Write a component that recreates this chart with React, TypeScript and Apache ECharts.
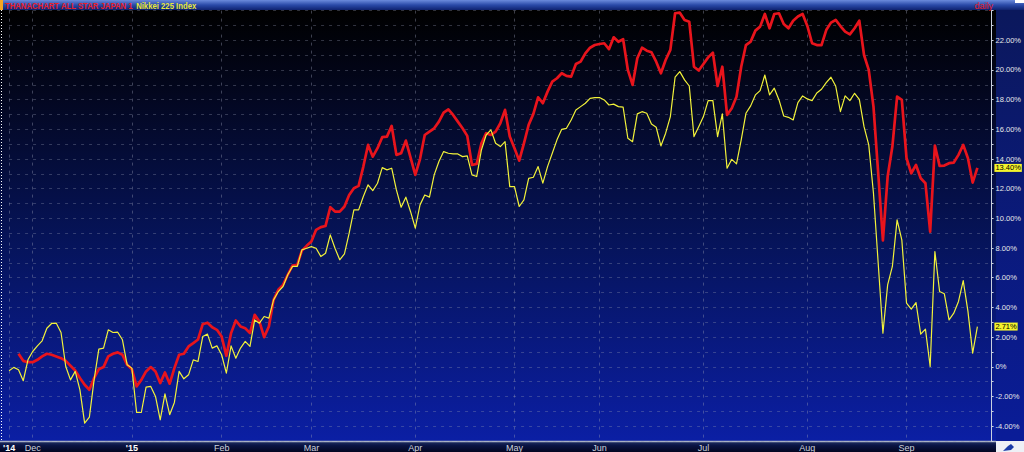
import React, { useEffect, useRef } from 'react';
import * as echarts from 'echarts';

const fundName = 'THANACHART ALL STAR JAPAN 1';
const indexName = 'Nikkei 225 Index';
const periodLabel = 'daily';

// trading-day index of each month start and its label
const monthTickIdx = [0, 5, 26, 45, 64, 86, 107, 125, 147, 169, 190];
const monthTickLabels = ["'14", 'Dec', "'15", 'Feb', 'Mar', 'Apr', 'May', 'Jun', 'Jul', 'Aug', 'Sep'];
const yearLabels = ["'14", "'15"];

// cumulative return, % (Nov 21 2014 .. Sep 25 2015, trading days)
const fundReturn = [
  null, null, 0.88, 0.40, 0.31, 0.31, 0.47, 0.70, 0.88, 0.81,
  0.70, 0.58, 0.40, 0.07, -0.25, -0.76, -1.21, -1.55, -0.76, -0.16,
  -0.02, 0.70, 0.88, 0.97, 0.81, 0.13, -0.16, -1.32, -0.88, -0.31,
  -0.02, -0.31, -1.10, -0.38, -1.14, -0.09, 0.81, 0.88, 1.37, 1.60,
  1.84, 2.87, 2.97, 2.66, 2.49, 2.04, 0.74, 2.27, 3.12, 2.72,
  2.60, 2.27, 3.50, 3.05, 2.00, 2.72, 4.51, 5.19, 5.52, 6.20,
  6.82, 6.87, 7.83, 8.15, 8.44, 9.23, 9.41, 9.49, 10.75, 10.46,
  10.46, 10.80, 11.58, 12.03, 12.19, 13.49, 14.95, 14.16, 14.73, 15.47,
  15.51, 16.23, 14.28, 14.39, 15.24, 14.10, 12.93, 14.00, 15.62, 15.85,
  16.07, 16.52, 17.13, 17.35, 16.97, 16.52, 16.07, 15.56, 13.60, 13.67,
  15.06, 15.74, 15.62, 15.85, 16.41, 17.31, 15.51, 14.73, 13.89, 15.06,
  16.30, 17.04, 18.16, 17.76, 18.54, 19.21, 19.44, 19.78, 19.60, 19.55,
  20.40, 20.56, 21.12, 21.50, 21.68, 21.75, 21.80, 21.40, 22.20, 21.90,
  22.07, 20.00, 18.99, 20.79, 21.50, 21.30, 21.19, 20.56, 19.78, 20.67,
  21.35, 23.82, 23.86, 23.37, 23.25, 20.22, 19.96, 20.40, 20.85, 21.17,
  18.92, 20.22, 16.97, 17.42, 18.20, 20.22, 21.68, 21.91, 22.65, 22.92,
  23.77, 22.81, 23.77, 23.82, 23.10, 22.81, 23.32, 23.60, 23.77, 22.97,
  21.80, 21.68, 21.68, 22.69, 23.19, 23.37, 22.96, 22.58, 22.40, 22.81,
  23.32, 21.01, 20.00, 17.53, 13.04, 8.51, 12.82, 14.84, 18.20, 17.98,
  14.05, 13.04, 13.60, 12.70, 12.37, 9.11, 14.90, 13.54, 13.56, 13.72,
  13.76, 14.28, 14.95, 14.05, 12.41, 13.40,
];

const indexReturn = [
  -0.27, -0.04, -0.20, -0.94, 0.47, 1.03, 1.41, 1.75, 2.60, 2.92,
  2.94, 2.31, 0.02, -0.88, -0.31, -1.55, -3.79, -3.39, -0.88, 1.19,
  1.26, 2.49, 2.31, 2.33, 1.82, 0.13, -0.09, -3.08, -3.08, -1.37,
  -1.32, -2.00, -3.57, -1.82, -3.23, -2.40, -0.31, -0.81, -0.54, 0.47,
  0.36, 2.04, 2.20, 1.26, 1.41, 0.81, -0.43, 1.41, 0.58, 1.26,
  1.71, 1.37, 3.16, 2.94, 3.39, 3.28, 4.51, 5.07, 5.41, 6.20,
  6.76, 6.76, 7.88, 7.99, 8.10, 7.99, 7.43, 7.65, 8.89, 7.99,
  7.21, 7.61, 9.00, 10.57, 10.57, 11.47, 12.26, 11.87, 12.37, 13.42,
  13.27, 13.38, 11.92, 10.75, 11.43, 10.45, 9.34, 10.91, 11.58, 11.43,
  12.93, 13.83, 14.50, 14.39, 14.34, 14.34, 14.16, 14.21, 12.93, 12.82,
  14.61, 15.62, 15.96, 15.06, 14.84, 15.17, 12.14, 12.14, 10.80, 11.25,
  12.70, 12.77, 13.49, 12.37, 13.49, 14.39, 15.29, 16.00, 16.07, 16.63,
  17.31, 17.53, 17.76, 18.09, 18.14, 18.14, 17.98, 17.64, 17.70, 17.53,
  17.49, 15.40, 15.17, 17.04, 17.19, 17.08, 16.36, 16.14, 14.88, 15.74,
  16.86, 19.51, 19.89, 19.33, 18.92, 15.51, 16.18, 16.86, 17.93, 17.93,
  15.51, 17.04, 13.38, 13.98, 13.67, 15.29, 17.08, 17.58, 18.32, 18.61,
  19.66, 18.32, 18.77, 17.98, 16.90, 16.81, 16.63, 17.80, 18.25, 18.05,
  17.93, 18.45, 18.70, 19.15, 19.51, 18.92, 17.19, 18.25, 17.93, 18.43,
  18.02, 16.18, 14.95, 11.69, 6.98, 2.27, 5.52, 6.76, 9.90, 8.55,
  4.29, 3.88, 4.33, 2.20, 2.54, 0.02, 7.77, 5.07, 4.92, 3.16,
  3.61, 4.40, 5.81, 3.73, 0.92, 2.71,
];

const yMin = -5;
const yMax = 24;
const yStep = 1;
const extraSlots = 3;

export default function App() {
  const ref = useRef<HTMLDivElement>(null);

  useEffect(() => {
    if (!ref.current) return;
    const chart = echarts.init(ref.current, undefined, { renderer: 'svg' });
    const n = Math.max(fundReturn.length, indexReturn.length) + extraSlots;
    const cats = Array.from({ length: n }, (_, i) => String(i));
    const labelMap = new Map<number, string>();
    monthTickIdx.forEach((idx, k) => labelMap.set(idx, monthTickLabels[k]));
    const showAt = (i: number) => labelMap.has(i);
    const font = 'Arial, "Liberation Sans", sans-serif';
    const G = echarts.graphic.LinearGradient;

    const tagLabel = {
      show: true,
      distance: 17,
      formatter: (p: any) => {
        const v = Array.isArray(p.value) ? p.value[1] : p.value;
        return Number(v).toFixed(2) + '%';
      },
      backgroundColor: '#f4f42c',
      color: '#000',
      fontSize: 7.5,
      fontFamily: font,
      padding: [0, 1],
      lineHeight: 8,
    };

    chart.setOption({
      animation: false,
      backgroundColor: '#000',
      grid: { left: 6.2, right: 28.3, top: 10.6, bottom: 10.75, containLabel: false },
      xAxis: {
        type: 'category',
        data: cats,
        boundaryGap: false,
        axisLine: { show: false },
        axisTick: { show: false },
        axisLabel: {
          interval: (i: number) => showAt(i),
          formatter: (_v: string, i: number) => {
            const t = labelMap.get(i) || '';
            return yearLabels.includes(t) ? `{y|${t}}` : t;
          },
          color: '#cdd1dc',
          fontSize: 9,
          fontFamily: font,
          margin: 2,
          rich: { y: { fontWeight: 'bold', color: '#ffffff', fontSize: 9, fontFamily: font } },
        },
        splitLine: {
          show: true,
          interval: (i: number) => showAt(i),
          lineStyle: { color: 'rgba(150,155,180,0.4)', type: [3, 5], width: 1 },
        },
      },
      yAxis: {
        type: 'value',
        position: 'right',
        min: yMin,
        max: yMax,
        interval: yStep,
        axisLine: { show: true, lineStyle: { color: '#c9d0e0', width: 1 } },
        axisTick: { show: true, length: 2, lineStyle: { color: '#c9d0e0' } },
        axisLabel: {
          color: '#e8e8e8',
          fontSize: 7.5,
          fontFamily: font,
          margin: 4,
          formatter: (v: number) => {
            if (v % 2 !== 0 || v > 22) return '';
            return v === 0 ? '0%' : v.toFixed(2) + '%';
          },
        },
        splitLine: {
          show: true,
          lineStyle: { color: 'rgba(150,155,180,0.33)', type: [3, 5], width: 1 },
        },
      },
      series: [
        {
          name: fundName,
          type: 'line',
          data: fundReturn,
          symbol: 'none',
          silent: true,
          lineStyle: { color: '#e8141c', width: 2.7, join: 'round' },
          itemStyle: { color: '#e8141c' },
          endLabel: tagLabel,
        },
        {
          name: indexName,
          type: 'line',
          data: indexReturn,
          symbol: 'none',
          silent: true,
          lineStyle: { color: '#f2f23a', width: 1.2, join: 'round' },
          itemStyle: { color: '#f2f23a' },
          endLabel: tagLabel,
        },
      ],
      graphic: [
        {
          type: 'rect', z: -10, silent: true,
          shape: { x: 0, y: 10, width: 996, height: 431 },
          style: {
            fill: new G(0, 0, 0, 1, [
              { offset: 0, color: '#000000' },
              { offset: 0.2, color: '#030720' },
              { offset: 0.55, color: '#06145c' },
              { offset: 0.9, color: '#0a1c94' },
              { offset: 1, color: '#0b1fa4' },
            ]),
          },
        },
        {
          type: 'rect', z: -10, silent: true,
          shape: { x: 996, y: 10, width: 28, height: 431 },
          style: {
            fill: new G(0, 0, 0, 1, [
              { offset: 0, color: '#0b185c' },
              { offset: 1, color: '#0a1c98' },
            ]),
          },
        },
        {
          type: 'line', z: -4, silent: true,
          shape: { x1: 1.5, y1: 10, x2: 1.5, y2: 441 },
          style: { stroke: '#ffffff', lineWidth: 1, lineDash: [1, 2] },
        },
        {
          type: 'rect', z: -5, silent: true,
          shape: { x: 0, y: 441, width: 1024, height: 11 },
          style: {
            fill: new G(0, 0, 0, 1, [
              { offset: 0, color: '#24346a' },
              { offset: 0.4, color: '#0a1444' },
              { offset: 1, color: '#020620' },
            ]),
          },
        },
        {
          type: 'line', z: -4, silent: true,
          shape: { x1: 0, y1: 441.5, x2: 996, y2: 441.5 },
          style: { stroke: '#aab2c4', lineWidth: 1.5 },
        },
        {
          type: 'rect', z: -4, silent: true,
          shape: { x: 996, y: 441, width: 28, height: 11 },
          style: { fill: '#eef0f6' },
        },
        {
          type: 'polygon', z: -3, silent: true,
          shape: { points: [[1003, 451], [1008, 446], [1011, 444], [1014, 447], [1011, 450]] },
          style: { fill: '#1a3aa8' },
        },
        {
          type: 'rect', z: 5, silent: true,
          shape: { x: 0, y: 0, width: 1024, height: 10 },
          style: {
            fill: new G(0, 0, 0, 1, [
              { offset: 0, color: '#6b8bdc' },
              { offset: 0.5, color: '#2a4aa8' },
              { offset: 1, color: '#0e2270' },
            ]),
          },
        },
        {
          type: 'rect', z: 6, silent: true,
          shape: { x: 0, y: 0, width: 3, height: 10 },
          style: { fill: '#f5a623' },
        },
        {
          type: 'rect', z: 6, silent: true,
          shape: { x: 1015, y: 0, width: 9, height: 3 },
          style: { fill: '#ffffff' },
        },
        {
          type: 'text', z: 7, silent: true,
          x: 5, y: 5.5, scaleX: 0.86,
          style: {
            text: `{r|${fundName}} {y|${indexName}}`,
            verticalAlign: 'middle',
            rich: {
              r: { fill: '#e8202a', fontSize: 9, fontWeight: 'bold', fontFamily: font },
              y: { fill: '#e8e83c', fontSize: 9, fontWeight: 'bold', fontFamily: font },
            },
          },
        },
        {
          type: 'text', z: 7, silent: true,
          x: 993, y: 5.5,
          style: {
            text: periodLabel,
            fill: '#e8202a',
            fontSize: 9,
            fontFamily: font,
            align: 'right',
            verticalAlign: 'middle',
          },
        },
      ],
    });

    return () => chart.dispose();
  }, []);

  return (
    <div
      ref={ref}
      style={{ position: 'fixed', left: 0, top: 0, width: 1024, height: 452 }}
    />
  );
}
